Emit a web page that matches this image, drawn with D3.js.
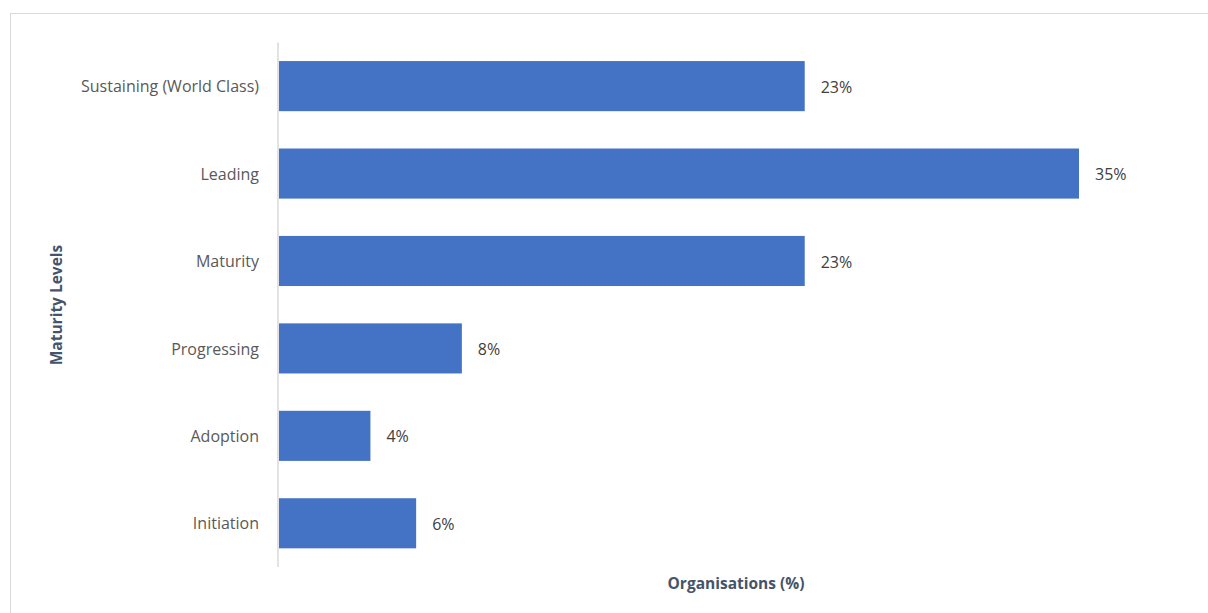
<!DOCTYPE html>
<html>
<head>
<meta charset="utf-8">
<script src="https://cdn.jsdelivr.net/npm/d3@7"></script>
<style>
  html, body { margin: 0; padding: 0; background: #fff; }
  svg { display: block; }
</style>
</head>
<body>
<svg id="chart" width="1208" height="613"></svg>
<script>
// Maturity levels, top to bottom
const categories = [
  "Sustaining (World Class)",
  "Leading",
  "Maturity",
  "Progressing",
  "Adoption",
  "Initiation"
];
// Share of organisations at each level (%)
const values = [23, 35, 23, 8, 4, 6];
const xTitle = "Organisations (%)";
const yTitle = "Maturity Levels";

const svg = d3.select("#chart");
const W = 1208, H = 613;
const font = "'Open Sans', 'Liberation Sans', sans-serif";

// chart area frame
svg.append("rect")
  .attr("x", 10.5).attr("y", 13.5)
  .attr("width", W + 10).attr("height", H + 10)
  .attr("fill", "#fff")
  .attr("stroke", "#d9d9d9").attr("stroke-width", 1);

const x = d3.scaleLinear().domain([0, 40]).range([279, 279 + 800 * 40 / 35]);
const y = d3.scaleBand().domain(categories).range([42.4, 567]).paddingInner(0.427).paddingOuter(0.2135);

// bars
svg.append("g").selectAll("rect")
  .data(values)
  .join("rect")
  .attr("x", x(0))
  .attr("y", (d, i) => y(categories[i]))
  .attr("width", d => x(d) - x(0))
  .attr("height", y.bandwidth())
  .attr("fill", "#4472c4");

// value labels
svg.append("g").selectAll("text")
  .data(values)
  .join("text")
  .attr("x", d => x(d) + 16)
  .attr("y", (d, i) => y(categories[i]) + y.bandwidth() / 2 + 1)
  .attr("dy", "0.35em")
  .attr("font-family", font)
  .attr("font-size", 16)
  .attr("fill", "#404040")
  .text(d => d + "%");

// category axis
const yAxis = d3.axisLeft(y).tickSize(0).tickPadding(19);
const gy = svg.append("g").attr("transform", `translate(${x(0) - 1},0)`).call(yAxis);
gy.select(".domain").attr("stroke", "#d9d9d9").attr("stroke-width", 1.5)
  .attr("d", `M0,${y.range()[0]}V${y.range()[1]}`);
gy.selectAll(".tick text")
  .attr("font-family", font)
  .attr("font-size", 16)
  .attr("dy", "0.38em")
  .attr("fill", "#595959");

// axis titles
svg.append("text")
  .attr("x", 736).attr("y", 589)
  .attr("text-anchor", "middle")
  .attr("font-family", font)
  .attr("font-size", 15.5)
  .attr("font-weight", "bold")
  .attr("fill", "#44546a")
  .text(xTitle);

svg.append("text")
  .attr("transform", "translate(62,305) rotate(-90)")
  .attr("text-anchor", "middle")
  .attr("font-family", font)
  .attr("font-size", 15.5)
  .attr("font-weight", "bold")
  .attr("fill", "#44546a")
  .text(yTitle);
</script>
</body>
</html>
